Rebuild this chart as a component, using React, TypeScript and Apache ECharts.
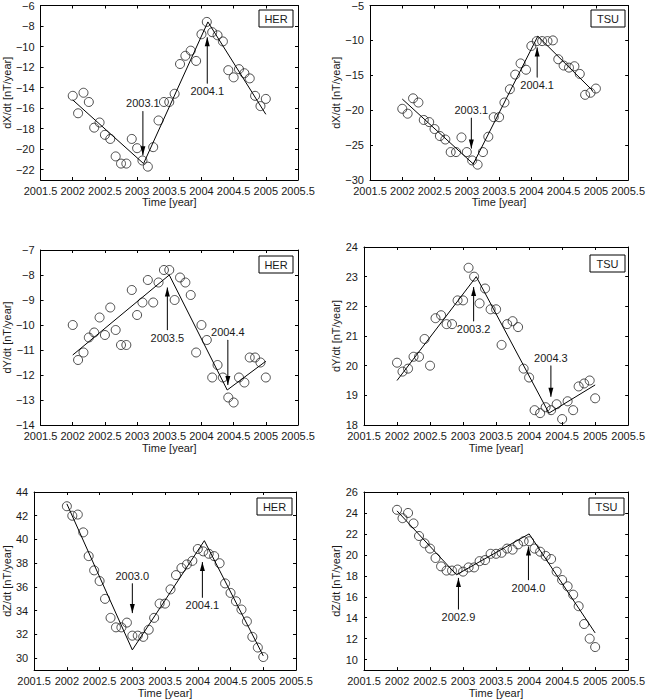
import React, { useEffect, useRef } from 'react';
import * as echarts from 'echarts';

// ---- data ----
const months = [
  2002, 2002.083, 2002.167, 2002.25, 2002.333, 2002.417, 2002.5, 2002.583, 2002.667, 2002.75, 2002.833, 2002.917,
  2003, 2003.083, 2003.167, 2003.25, 2003.333, 2003.417, 2003.5, 2003.583, 2003.667, 2003.75, 2003.833, 2003.917,
  2004, 2004.083, 2004.167, 2004.25, 2004.333, 2004.417, 2004.5, 2004.583, 2004.667, 2004.75, 2004.833, 2004.917,
  2005,
];

const herDX = [-14.8, -16.5, -14.5, -15.4, -17.9, -17.4, -18.6, -19.0, -20.7, -21.4, -21.4, -19.0, -19.9, -21.1, -21.7, -19.8, -17.2, -15.4, -15.4, -14.6, -11.7, -10.9, -10.4, -11.4, -8.8, -7.6, -8.6, -8.9, -9.5, -12.3, -13.0, -12.2, -12.6, -13.1, -14.8, -15.8, -15.1];
const tsuDX = [-19.8, -20.5, -18.3, -18.9, -21.4, -21.7, -22.7, -23.7, -24.2, -26.0, -26.0, -23.9, -26.0, -27.2, -27.8, -26.0, -23.8, -21.0, -21.0, -18.9, -17.0, -14.9, -13.3, -14.2, -10.8, -10.1, -10.1, -10.1, -10.0, -12.7, -13.6, -13.9, -13.7, -14.8, -17.8, -17.5, -16.9];
const herDY = [-10.0, -11.4, -11.1, -10.5, -10.3, -9.7, -10.4, -9.3, -10.2, -10.8, -10.8, -8.6, -9.6, -9.1, -8.2, -9.1, -8.3, -7.8, -7.8, -9.0, -8.1, -8.3, -8.8, -11.1, -10.0, -10.6, -12.1, -11.6, -12.1, -12.9, -13.1, -12.1, -12.3, -11.3, -11.3, -11.5, -12.1];
const tsuDY = [20.1, 19.8, 19.9, 20.3, 20.3, 20.9, 20.0, 21.6, 21.7, 21.4, 21.4, 22.2, 22.2, 23.3, 23.0, 22.1, 22.6, 21.9, 21.9, 20.7, 21.4, 21.5, 21.3, 19.9, 19.6, 18.5, 18.4, 18.6, 18.5, 18.7, 18.2, 18.8, 18.5, 19.3, 19.4, 19.5, 18.9];
const herDZ = [42.8, 42.0, 42.1, 40.6, 38.6, 37.4, 36.5, 35.0, 33.4, 32.6, 32.6, 33.0, 31.9, 31.9, 31.8, 32.4, 33.4, 34.6, 34.6, 35.8, 37.0, 37.6, 37.9, 38.2, 39.2, 39.0, 38.8, 38.6, 38.0, 36.3, 35.5, 34.8, 34.1, 33.1, 31.8, 30.9, 30.1];
const tsuDZ = [24.3, 23.5, 24.0, 23.0, 21.8, 21.1, 20.6, 19.7, 18.9, 18.5, 18.5, 18.6, 18.4, 18.8, 18.8, 19.4, 19.5, 20.1, 20.1, 20.2, 20.6, 20.5, 21.0, 21.3, 21.3, 20.6, 20.3, 19.9, 19.6, 18.4, 17.6, 17.0, 16.2, 15.1, 13.4, 12.0, 11.2];

// piecewise linear fits (break years and values)
const herDXFitT = [2002, 2003.1, 2004.1, 2005];
const herDXFitV = [-15.2, -21.4, -7.6, -16.6];
const tsuDXFitT = [2002, 2003.1, 2004.1, 2004.95];
const tsuDXFitV = [-18.4, -27.7, -9.4, -17.2];
const herDYFitT = [2002, 2003.5, 2004.4, 2005];
const herDYFitV = [-11.2, -8.0, -12.6, -11.45];
const tsuDYFitT = [2002, 2003.2, 2004.3, 2005];
const tsuDYFitV = [19.5, 23.0, 18.4, 19.35];
const herDZFitT = [2002, 2003.0, 2004.1, 2005];
const herDZFitV = [43.0, 30.7, 39.9, 30.2];
const tsuDZFitT = [2002, 2002.9, 2004.0, 2005];
const tsuDZFitV = [24.2, 18.1, 22.0, 12.55];

// arrows: [year, tail value, tip value, label]
const herDXArrows: [number, number, number, string][] = [[2003.09, -16.3, -20.6, '2003.1'], [2004.09, -13.6, -9.1, '2004.1']];
const tsuDXArrows: [number, number, number, string][] = [[2003.07, -21.1, -25.5, '2003.1'], [2004.09, -15.3, -11.0, '2004.1']];
const herDYArrows: [number, number, number, string][] = [[2003.47, -10.2, -8.5, '2003.5'], [2004.41, -10.6, -12.4, '2004.4']];
const tsuDYArrows: [number, number, number, string][] = [[2003.16, 21.5, 22.65, '2003.2'], [2004.33, 20.0, 18.95, '2004.3']];
const herDZArrows: [number, number, number, string][] = [[2003.0, 36.3, 33.8, '2003.0'], [2004.07, 35.1, 38.1, '2004.1']];
const tsuDZArrows: [number, number, number, string][] = [[2002.93, 14.8, 17.8, '2002.9'], [2003.99, 17.6, 20.8, '2004.0']];

// tick labels
const xTicks = [2001.5, 2002, 2002.5, 2003, 2003.5, 2004, 2004.5, 2005, 2005.5];
const yTicksHerDX = [-22, -20, -18, -16, -14, -12, -10, -8, -6];
const yTicksTsuDX = [-30, -25, -20, -15, -10, -5];
const yTicksHerDY = [-14, -13, -12, -11, -10, -9, -8, -7];
const yTicksTsuDY = [18, 19, 20, 21, 22, 23, 24];
const yTicksHerDZ = [30, 32, 34, 36, 38, 40, 42, 44];
const yTicksTsuDZ = [10, 12, 14, 16, 18, 20, 22, 24, 26];

const FONT = "'Liberation Sans', Arial, Helvetica, sans-serif";
const TXT = '#1a1a1a';
const UP_PATH = 'path://M5,0L10,18L0,18Z';
const DOWN_PATH = 'path://M0,0L10,0L5,18Z';

const panels = [
  { grid: { left: 36, top: 5, width: 262, height: 175 }, yMin: -23, yMax: -6, yTicks: yTicksHerDX, yName: 'dX/dt [nT/year]', yGap: 26, xGap: 15, station: 'HER', box: [259, 10, 34, 17], values: herDX, fitT: herDXFitT, fitV: herDXFitV, arrows: herDXArrows },
  { grid: { left: 370, top: 4, width: 262, height: 176 }, yMin: -30, yMax: -5, yTicks: yTicksTsuDX, yName: 'dX/dt [nT/year]', yGap: 27, xGap: 16, station: 'TSU', box: [591, 10, 34, 17], values: tsuDX, fitT: tsuDXFitT, fitV: tsuDXFitV, arrows: tsuDXArrows },
  { grid: { left: 36, top: 250, width: 262, height: 175 }, yMin: -14, yMax: -7, yTicks: yTicksHerDY, yName: 'dY/dt [nT/year]', yGap: 25, xGap: 17, station: 'HER', box: [259, 256, 34, 17], values: herDY, fitT: herDYFitT, fitV: herDYFitV, arrows: herDYArrows },
  { grid: { left: 364, top: 247, width: 267, height: 178 }, yMin: 18, yMax: 24, yTicks: yTicksTsuDY, yName: 'dY/dt [nT/year]', yGap: 17, xGap: 17, station: 'TSU', box: [590, 255, 35, 17], values: tsuDY, fitT: tsuDYFitT, fitV: tsuDYFitV, arrows: tsuDYArrows },
  { grid: { left: 31, top: 492, width: 265, height: 179 }, yMin: 29, yMax: 44, yTicks: yTicksHerDZ, yName: 'dZ/dt [nT/year]', yGap: 18, xGap: 16, station: 'HER', box: [257, 498, 35, 17], values: herDZ, fitT: herDZFitT, fitV: herDZFitV, arrows: herDZArrows },
  { grid: { left: 364, top: 492, width: 267, height: 179 }, yMin: 9, yMax: 26, yTicks: yTicksTsuDZ, yName: 'dZ/dt [nT/year]', yGap: 19, xGap: 15, station: 'TSU', box: [589, 498, 35, 17], values: tsuDZ, fitT: tsuDZFitT, fitV: tsuDZFitV, arrows: tsuDZArrows },
];

const fmtY = (v: number) => (v < 0 ? '\u2212' + Math.abs(v) : String(v));

export default function App() {
  const ref = useRef<HTMLDivElement>(null);
  useEffect(() => {
    if (!ref.current) return;
    const chart = echarts.init(ref.current, null, { renderer: 'svg' });
    const grids: any[] = [];
    const xAxes: any[] = [];
    const yAxes: any[] = [];
    const series: any[] = [];
    const graphics: any[] = [];
    const lineAx = { show: true, onZero: false, lineStyle: { color: '#000', width: 1 } };

    panels.forEach((p, i) => {
      grids.push({ ...p.grid, containLabel: false });
      const xBase = {
        type: 'value', gridIndex: i, min: 2001.5, max: 2005.5,
        axisLine: lineAx, splitLine: { show: false },
      };
      xAxes.push({
        ...xBase, position: 'bottom',
        name: 'Time [year]', nameLocation: 'middle', nameGap: p.xGap,
        nameTextStyle: { fontFamily: FONT, fontSize: 11, color: TXT },
        axisTick: { show: true, inside: true, length: 3, customValues: xTicks, lineStyle: { color: '#000' } },
        axisLabel: { show: true, customValues: xTicks, margin: 5, fontFamily: FONT, fontSize: 11, color: TXT, showMinLabel: true, showMaxLabel: true, formatter: (v: number) => String(v) },
      });
      xAxes.push({
        ...xBase, position: 'top',
        axisTick: { show: true, inside: true, length: 3, customValues: xTicks, lineStyle: { color: '#000' } },
        axisLabel: { show: false },
      });
      const yBase = {
        type: 'value', gridIndex: i, min: p.yMin, max: p.yMax,
        axisLine: lineAx, splitLine: { show: false },
      };
      yAxes.push({
        ...yBase, position: 'left',
        name: p.yName, nameLocation: 'middle', nameGap: p.yGap, nameRotate: 90,
        nameTextStyle: { fontFamily: FONT, fontSize: 11, color: TXT },
        axisTick: { show: true, inside: true, length: 3, customValues: p.yTicks, lineStyle: { color: '#000' } },
        axisLabel: { show: true, customValues: p.yTicks, margin: 6, fontFamily: FONT, fontSize: 11, color: TXT, showMinLabel: true, showMaxLabel: true, formatter: fmtY },
      });
      yAxes.push({
        ...yBase, position: 'right',
        axisTick: { show: true, inside: true, length: 3, customValues: p.yTicks, lineStyle: { color: '#000' } },
        axisLabel: { show: false },
      });
      const xi = 2 * i;
      const yi = 2 * i;
      series.push({
        type: 'scatter', xAxisIndex: xi, yAxisIndex: yi, silent: true,
        symbol: 'circle', symbolSize: 9,
        itemStyle: { color: 'rgba(0,0,0,0)', borderColor: '#222', borderWidth: 1 },
        data: months.map((t, k) => [t, p.values[k]]),
      });
      series.push({
        type: 'line', xAxisIndex: xi, yAxisIndex: yi, silent: true, showSymbol: false,
        lineStyle: { color: '#000', width: 1 },
        data: p.fitT.map((t, k) => [t, p.fitV[k]]),
      });
      p.arrows.forEach(([x, tail, tip, text]) => {
        const up = tip > tail;
        series.push({
          type: 'line', xAxisIndex: xi, yAxisIndex: yi, silent: true, showSymbol: true,
          lineStyle: { color: '#000', width: 1 },
          itemStyle: { color: '#000' },
          z: 5,
          data: [
            {
              value: [x, tail], symbol: 'circle', symbolSize: 0.5,
              label: { show: true, position: up ? 'bottom' : 'top', distance: 2, formatter: text, fontFamily: FONT, fontSize: 11, color: TXT },
            },
            { value: [x, tip], symbol: up ? UP_PATH : DOWN_PATH, symbolSize: [5, 9], symbolOffset: [0, up ? 4.5 : -4.5] },
          ],
        });
      });
      const [bx, by, bw, bh] = p.box;
      graphics.push({
        type: 'rect', shape: { x: bx, y: by, width: bw, height: bh },
        style: { fill: '#fff', stroke: '#000', lineWidth: 1 }, z: 10,
      });
      graphics.push({
        type: 'text', x: bx + bw / 2, y: by + bh / 2 + 0.5, z: 11,
        style: { text: p.station, fill: TXT, font: `11px ${FONT}`, align: 'center', verticalAlign: 'middle' },
      });
    });

    chart.setOption({
      animation: false,
      backgroundColor: '#fff',
      grid: grids,
      xAxis: xAxes,
      yAxis: yAxes,
      series,
      graphic: graphics,
    });
    return () => chart.dispose();
  }, []);
  return <div ref={ref} style={{ position: 'fixed', left: 0, top: 0, width: 648, height: 699 }} />;
}
